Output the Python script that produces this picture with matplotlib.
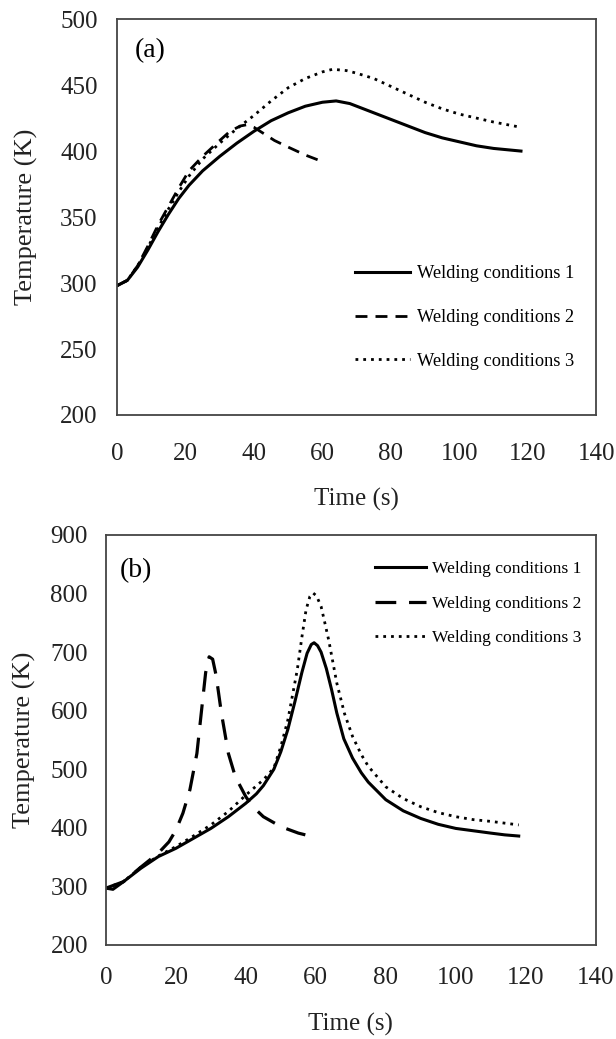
import matplotlib
matplotlib.use('Agg')
import matplotlib.pyplot as plt

plt.rcParams['font.family'] = ['Liberation Serif', 'DejaVu Serif']

labels = ['Welding conditions 1', 'Welding conditions 2', 'Welding conditions 3']

# panel (a)
a_t1 = [0, 3, 6, 9, 12, 15, 18, 21, 25, 30, 35, 40, 45, 50, 55, 60, 64, 68, 72, 76, 80, 85, 90, 95, 100, 105, 110, 114, 118]
a_T1 = [298, 302, 312, 325, 339, 352, 364, 374, 385, 396, 406, 415, 423, 429, 434, 437, 438, 436, 432, 428, 424, 419, 414, 410, 407, 404, 402, 401, 400]

a_t2 = [0, 3, 6, 9, 12, 15, 18, 21, 25, 30, 33, 36, 38, 40, 43, 46, 50, 55, 60]
a_T2 = [298, 302, 313, 328, 344, 358, 372, 385, 396, 408, 415, 419, 420, 418, 413, 408, 403, 397, 392]

a_t3 = [0, 3, 6, 9, 12, 15, 18, 21, 25, 30, 35, 40, 45, 50, 55, 60, 63, 67, 70, 75, 80, 85, 90, 95, 100, 105, 110, 114, 118]
a_T3 = [298, 302, 313, 327, 342, 356, 369, 381, 394, 406, 417, 427, 438, 448, 455, 460, 462, 461, 459, 455, 449, 443, 437, 432, 428, 425, 422, 420, 418]

# panel (b)
b_t1 = [0, 2, 5, 10, 15, 20, 25, 30, 35, 40, 43, 45, 48, 50, 52, 54, 56, 57.5, 58.7, 59.5, 60.5, 61.5, 63, 64.5, 66, 68, 70.5, 73, 75, 78, 80, 85, 90, 95, 100, 105, 110, 114, 118]
b_T1 = [297, 295, 308, 331, 351, 365, 382, 399, 419, 442, 458, 472, 500, 530, 568, 615, 665, 698, 713, 716, 711, 700, 672, 636, 596, 552, 519, 494, 478, 460, 448, 429, 416, 406, 399, 395, 391, 388, 386]

b_t2 = [0, 5, 10, 15, 18, 20, 22, 24, 26, 27.5, 28.5, 29.5, 30.5, 31.5, 33, 35, 37, 40, 42, 45, 50, 55, 57]
b_T2 = [297, 308, 333, 357, 376, 396, 425, 465, 527, 610, 665, 692, 688, 660, 596, 527, 487, 453, 436, 419, 402, 391, 388]

b_t3 = [0, 5, 10, 15, 20, 25, 30, 35, 40, 45, 48, 50, 52, 54.7, 56, 57.2, 58.3, 59.2, 60.2, 61.5, 62.5, 63.7, 66, 68.2, 70.5, 73, 75, 80, 85, 90, 95, 100, 105, 110, 114, 118]
b_T3 = [297, 308, 333, 352, 368, 386, 405, 428, 456, 482, 502, 539, 584, 670, 725, 772, 795, 801, 796, 778, 752, 720, 647, 595, 556, 525, 505, 470, 450, 436, 426, 419, 414, 411, 408, 405]

fig = plt.figure(figsize=(6.16, 10.39), dpi=100)
ax1 = fig.add_axes([0.190, 0.6006, 0.778, 0.381])
ax2 = fig.add_axes([0.172, 0.0905, 0.795, 0.3946])

ax1.plot(a_t1, a_T1, color='black', lw=2.2, label=labels[0])
ax1.plot(a_t2, a_T2, color='black', lw=2.0, linestyle=(0, (4.3, 2.9)), label=labels[1])
ax1.plot(a_t3, a_T3, color='black', lw=2.0, linestyle=(0, (1, 1.8)), label=labels[2])

ax2.plot(b_t1, b_T1, color='black', lw=2.2, label=labels[0])
ax2.plot(b_t2, b_T2, color='black', lw=2.3, linestyle=(0, (6.5, 4.0)), label=labels[1])
ax2.plot(b_t3, b_T3, color='black', lw=2.0, linestyle=(0, (1, 1.8)), label=labels[2])

ax1.set_xlim(0, 140)
ax1.set_ylim(200, 500)
ax2.set_xlim(0, 140)
ax2.set_ylim(200, 900)

for ax, ypad, xpad in [(ax1, 14, 20), (ax2, 13, 16)]:
    ax.set_xticks(range(0, 141, 20))
    for s in ax.spines.values():
        s.set_color('#444444')
        s.set_linewidth(1.3)
    ax.tick_params(axis='both', length=0, labelsize=18, colors='#222222')
    ax.tick_params(axis='y', pad=ypad)
    ax.tick_params(axis='x', pad=xpad)
    ax.set_xlabel('Time (s)', fontsize=18, color='#222222')
    ax.set_ylabel('Temperature (K)', fontsize=19, color='#222222')

ax1.xaxis.set_label_coords(0.5, -0.184)
ax1.yaxis.set_label_coords(-0.165, 0.5)
ax2.xaxis.set_label_coords(0.5, -0.166)
ax2.yaxis.set_label_coords(-0.143, 0.5)

ax1.text(5.3, 476, '(a)', fontsize=20, va='center', ha='left')
ax2.text(4, 840, '(b)', fontsize=20, va='center', ha='left')

ax1.legend(loc='upper left', bbox_to_anchor=(0.497, 0.378), frameon=False,
           fontsize=13.2, handlelength=3.0, handletextpad=0.35, labelspacing=1.45,
           borderpad=0, borderaxespad=0)
ax2.legend(loc='upper left', bbox_to_anchor=(0.549, 0.937), frameon=False,
           fontsize=12.6, handlelength=2.9, handletextpad=0.35, labelspacing=1.05,
           borderpad=0, borderaxespad=0)

fig.savefig('out.png', dpi=100)
